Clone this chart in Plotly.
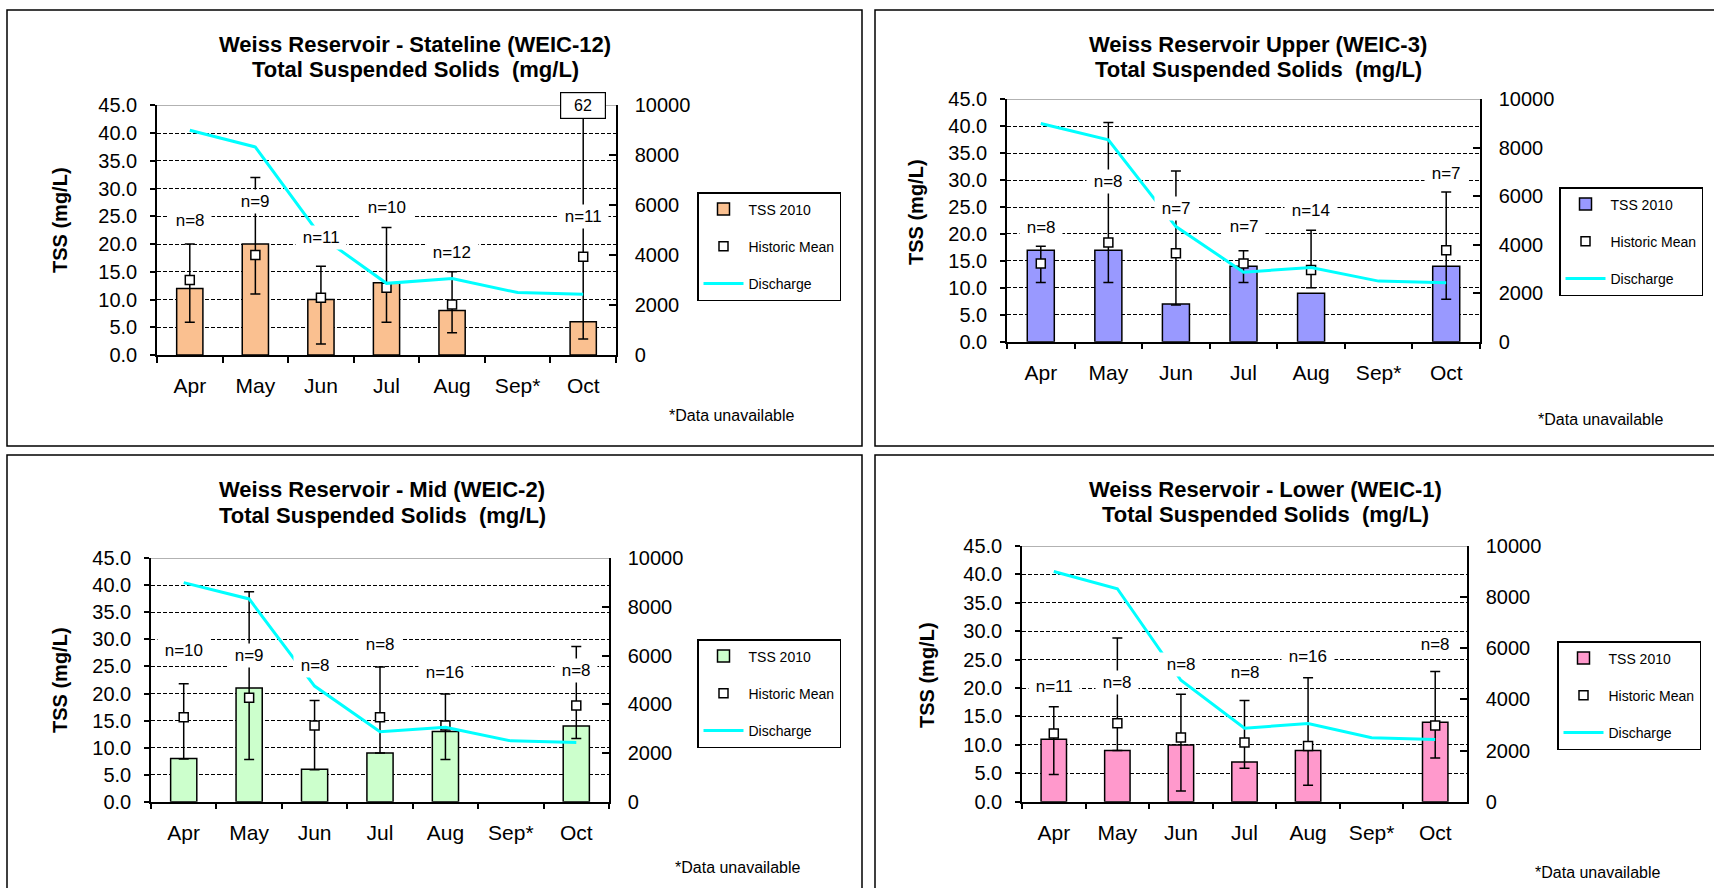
import plotly.graph_objects as go

# ---------------- data ----------------
months = ["Apr", "May", "Jun", "Jul", "Aug", "Sep*", "Oct"]
discharge = [9000, 8330, 4750, 2870, 3060, 2500, 2430]

# Stateline (WEIC-12)
stateline_tss = [12, 20, 10, 13, 8, None, 6]
stateline_mean = [13.5, 18.0, 10.3, 12.1, 9.1, None, 17.7]
stateline_max = [20, 32, 16, 23, 15, None, 62]
stateline_min = [5.9, 11, 2, 5.9, 4, None, 2.9]
stateline_n = [8, 9, 11, 10, 12, None, 11]

# Upper (WEIC-3)
upper_tss = [17, 17, 7, 14, 9, None, 14]
upper_mean = [14.5, 18.4, 16.4, 14.5, 13.3, None, 17.0]
upper_max = [17.7, 40.7, 31.7, 16.9, 20.7, None, 27.8]
upper_min = [11, 11, 6.8, 11, 10, None, 7.9]
upper_n = [8, 8, 7, 7, 14, None, 7]

# Mid (WEIC-2)
mid_tss = [8, 21, 6, 9, 13, None, 14]
mid_mean = [15.6, 19.2, 14.1, 15.6, 14.1, None, 17.8]
mid_max = [21.8, 38.8, 18.7, 24.9, 19.9, None, 28.7]
mid_min = [7.9, 7.8, 5.9, 9.0, 7.8, None, 11.7]
mid_n = [10, 9, 8, 8, 16, None, 8]

# Lower (WEIC-1)
lower_tss = [11, 9, 10, 7, 9, None, 14]
lower_mean = [12.0, 13.8, 11.3, 10.4, 9.8, None, 13.4]
lower_max = [16.7, 28.8, 18.9, 17.8, 21.8, None, 22.9]
lower_min = [4.8, 9.0, 1.9, 5.9, 2.9, None, 7.7]
lower_n = [11, 8, 8, 8, 16, None, 8]

# ---------------- layout helpers (positions, styles) ----------------
W, H = 1714, 888
FONT = "Liberation Sans, Arial, sans-serif"


def px(v):
    return v / W


def py(v):
    return 1 - v / H


panels = [
    dict(title="Weiss Reservoir - Stateline (WEIC-12)", tss=stateline_tss, mean=stateline_mean,
         vmax=stateline_max, vmin=stateline_min, n=stateline_n, color="#FAC090",
         n_pos=[24.2, 27.6, 21.1, 26.5, 18.5, None, 25.0],
         xdom=(157, 616), ydom=(105.3, 355), title_xy=(415, 45, 70), ytitle_xy=(60, 220),
         note_xy=(732, 415), legend_xy=(697, 192), border=(7, 10, 862, 446)),
    dict(title="Weiss Reservoir Upper (WEIC-3)", tss=upper_tss, mean=upper_mean,
         vmax=upper_max, vmin=upper_min, n=upper_n, color="#9999FF",
         n_pos=[21.2, 29.7, 24.8, 21.4, 24.3, None, 31.3],
         xdom=(1007, 1480), ydom=(99.3, 341.7), title_xy=(1258, 45, 70), ytitle_xy=(916, 212),
         note_xy=(1601, 419), legend_xy=(1559, 187), border=(875, 10, 1730, 446)),
    dict(title="Weiss Reservoir - Mid (WEIC-2)", tss=mid_tss, mean=mid_mean,
         vmax=mid_max, vmin=mid_min, n=mid_n, color="#CCFFCC",
         n_pos=[27.9, 27.1, 25.2, 29.0, 23.9, None, 24.2],
         xdom=(151, 609), ydom=(558.3, 801.7), title_xy=(382, 489, 515), ytitle_xy=(60, 680),
         note_xy=(738, 867), legend_xy=(697, 639), border=(7, 455, 862, 900)),
    dict(title="Weiss Reservoir - Lower (WEIC-1)", tss=lower_tss, mean=lower_mean,
         vmax=lower_max, vmin=lower_min, n=lower_n, color="#FF99CC",
         n_pos=[20.2, 21.0, 24.1, 22.7, 25.6, None, 27.6],
         xdom=(1022, 1467), ydom=(546, 801.7), title_xy=(1265, 489, 514), ytitle_xy=(927, 675),
         note_xy=(1598, 872), legend_xy=(1557, 641), border=(875, 455, 1730, 900)),
]

fig = go.Figure()
annotations = []
shapes = []
layout_axes = {}

for i, p in enumerate(panels, start=1):
    xa = "x" if i == 1 else f"x{i}"
    ya = "y" if i == 1 else f"y{i}"
    ya2 = f"y{i + 4}"
    leg = "legend" if i == 1 else f"legend{i}"

    up = [None if m is None else mx - m for m, mx in zip(p["mean"], p["vmax"])]
    dn = [None if m is None else m - mn for m, mn in zip(p["mean"], p["vmin"])]

    fig.add_trace(go.Bar(
        x=months, y=p["tss"], name="TSS 2010", xaxis=xa, yaxis=ya,
        marker=dict(color=p["color"], line=dict(color="black", width=1.5)),
        legend=leg, legendgroup=f"tss{i}", hoverinfo="skip"))
    fig.add_trace(go.Scatter(
        x=months, y=p["mean"], name="Historic Mean", mode="markers", xaxis=xa, yaxis=ya,
        marker=dict(symbol="square", size=9, color="white", line=dict(color="black", width=1.5)),
        error_y=dict(type="data", symmetric=False, array=up, arrayminus=dn,
                     color="black", thickness=1.5, width=5),
        legend=leg, legendgroup=f"hm{i}", hoverinfo="skip"))
    fig.add_trace(go.Scatter(
        x=months, y=discharge, name="Discharge", mode="lines", xaxis=xa, yaxis=ya2,
        line=dict(color="#00FFFF", width=3),
        legend=leg, legendgroup=f"q{i}", hoverinfo="skip"))

    xk = "xaxis" if i == 1 else f"xaxis{i}"
    yk = "yaxis" if i == 1 else f"yaxis{i}"
    yk2 = f"yaxis{i + 4}"
    layout_axes[xk] = dict(
        domain=[px(p["xdom"][0]), px(p["xdom"][1])], anchor=ya, type="category",
        categoryorder="array", categoryarray=months, range=[-0.5, 6.5],
        tickson="boundaries", ticks="outside", ticklen=6, tickwidth=1.5, tickcolor="black",
        showline=True, linecolor="black", linewidth=1.5, showgrid=False,
        tickfont=dict(family=FONT, size=21, color="black"), ticklabelstandoff=11)
    layout_axes[yk] = dict(
        domain=[py(p["ydom"][1]), py(p["ydom"][0])], anchor=xa, range=[0, 45],
        dtick=5, tick0=0, tickformat=".1f", showgrid=True, gridcolor="black",
        griddash="4px,2px", gridwidth=1, zeroline=False, showline=True,
        linecolor="black", linewidth=1.5, ticks="outside", ticklen=5, tickwidth=1.5,
        tickcolor="black", tickfont=dict(family=FONT, size=20, color="black"),
        ticklabelstandoff=9)
    layout_axes[yk2] = dict(
        overlaying=ya, anchor=xa, side="right", range=[0, 10000], dtick=2000, tick0=0,
        tickformat="d", showgrid=False, zeroline=False, showline=True,
        linecolor="black", linewidth=1.5, ticks="inside", ticklen=7, tickwidth=1.5,
        tickcolor="black", tickfont=dict(family=FONT, size=20, color="black"),
        ticklabelstandoff=13)

    layout_axes[leg] = dict(
        x=px(p["legend_xy"][0]), y=py(p["legend_xy"][1]), xanchor="left", yanchor="top",
        bgcolor="white", bordercolor="black", borderwidth=1.5,
        font=dict(family=FONT, size=14, color="black"), traceorder="grouped",
        tracegroupgap=16, itemwidth=40)

    # gray top gridline
    shapes.append(dict(type="line", xref=f"{xa} domain", yref=ya, x0=0, x1=1, y0=45, y1=45,
                       line=dict(color="#999999", width=1.5), layer="above"))
    # panel border
    bx0, by0, bx1, by1 = p["border"]
    shapes.append(dict(type="rect", xref="paper", yref="paper", x0=px(bx0), x1=px(bx1),
                       y0=py(by1), y1=py(by0), line=dict(color="black", width=1.5),
                       fillcolor="rgba(0,0,0,0)", layer="above"))

    # title (two lines)
    tx, ty1, ty2 = p["title_xy"]
    for txt, ty in ((p["title"], ty1), ("Total Suspended Solids  (mg/L)", ty2)):
        annotations.append(dict(
            xref="paper", yref="paper", x=px(tx), y=py(ty),
            text=f"<b>{txt}</b>", showarrow=False,
            xanchor="center", yanchor="middle", font=dict(family=FONT, size=22, color="black")))
    # y-axis title
    annotations.append(dict(
        xref="paper", yref="paper", x=px(p["ytitle_xy"][0]), y=py(p["ytitle_xy"][1]),
        text="<b>TSS (mg/L)</b>", textangle=-90, showarrow=False,
        xanchor="center", yanchor="middle", font=dict(family=FONT, size=20, color="black")))
    # note
    annotations.append(dict(
        xref="paper", yref="paper", x=px(p["note_xy"][0]), y=py(p["note_xy"][1]),
        text="*Data unavailable", showarrow=False, xanchor="center", yanchor="middle",
        font=dict(family=FONT, size=16, color="black")))
    # n labels
    for m, nv, yy in zip(months, p["n"], p["n_pos"]):
        if nv is None:
            continue
        annotations.append(dict(
            xref=xa, yref=ya, x=m, y=yy, text=f"&nbsp;n={nv}&nbsp;", showarrow=False,
            bgcolor="white", borderpad=2, xanchor="center", yanchor="middle",
            font=dict(family=FONT, size=17, color="black")))
    # off-scale value box
    for m, mx in zip(months, p["vmax"]):
        if mx is not None and mx > 45:
            annotations.append(dict(
                xref=xa, yref=ya, x=m, y=45, text=f"&nbsp;&nbsp;{mx:g}&nbsp;&nbsp;",
                showarrow=False, bgcolor="white", bordercolor="black", borderwidth=1.2,
                borderpad=4, xanchor="center", yanchor="middle",
                font=dict(family=FONT, size=16, color="black")))

fig.update_layout(
    width=W, height=H, margin=dict(l=0, r=0, t=0, b=0, autoexpand=False),
    paper_bgcolor="white", plot_bgcolor="white", bargap=0.6, showlegend=True,
    annotations=annotations, shapes=shapes, font=dict(family=FONT, color="black"),
    **layout_axes)

fig.write_html("out.html", config={"displayModeBar": False},
               post_script="document.body.style.margin='0';document.body.style.overflow='hidden';")
